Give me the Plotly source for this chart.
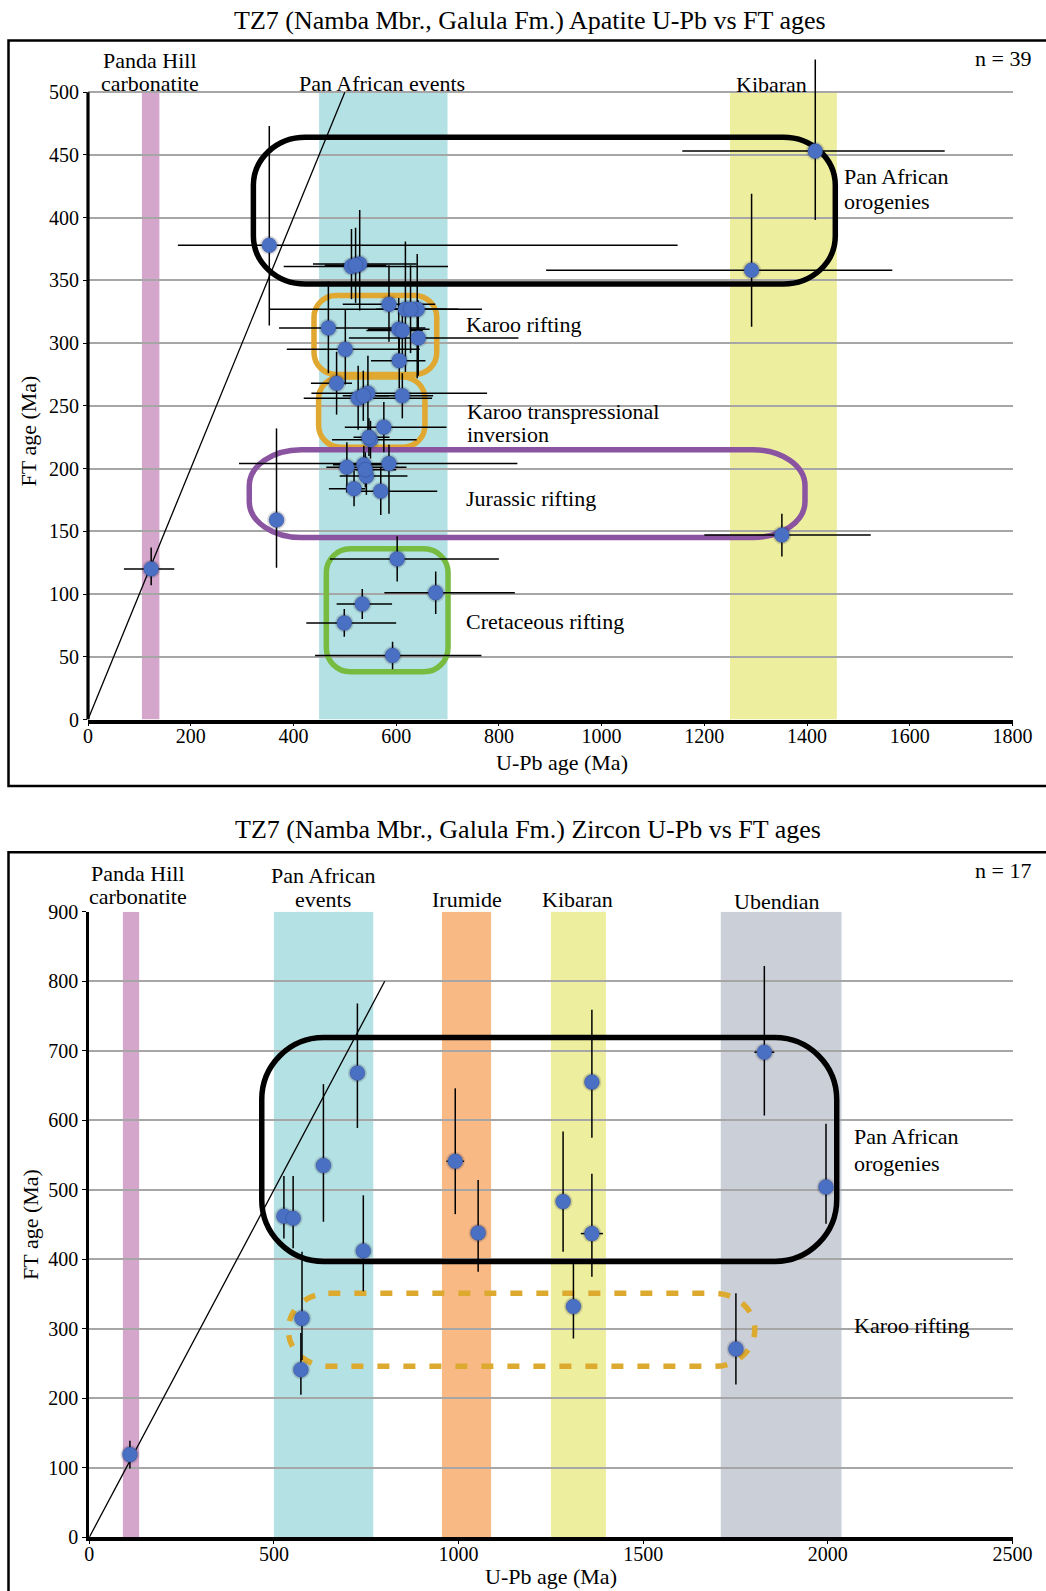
import plotly.graph_objects as go

W, H = 1046, 1591
FONT = "Liberation Serif"

# ---------------- Apatite (upper panel) ----------------
ap_upb = [123, 353, 513, 529, 586, 618, 641, 468, 605, 643, 501, 606, 484, 526, 545, 612,
          576, 550, 504, 537, 542, 586, 518, 570, 367, 602, 677, 534, 499, 593, 1416, 1292,
          1351, 521, 628, 540, 536, 612, 547]
ap_upb_lo = [53, 178, 132, 91, 90, 265, 80, 96, 60, 135, 114, 55, 50, 106, 110, 50,
             76, 75, 40, 60, 52, 292, 49, 43, 10, 131, 100, 50, 74, 151, 259, 400,
             151, 60, 50, 45, 40, 70, 30]
ap_upb_hi = [45, 795, 188, 111, 90, 149, 80, 189, 60, 195, 145, 51, 30, 144, 232, 60,
             122, 90, 116, 60, 80, 250, 22, 110, 10, 198, 154, 58, 101, 173, 252, 274,
             173, 60, 70, 60, 50, 40, 40]
ap_ft = [120, 378, 361, 363, 331, 327, 327, 312, 311, 304, 295, 286, 268, 256, 260, 258,
         233, 223, 201, 203, 194, 204, 184, 182, 159, 128, 101, 92, 77, 51, 453, 358,
         147, 362, 327, 199, 258, 310, 225]
ap_ft_lo = [13, 64, 26, 37, 30, 50, 55, 36, 25, 30, 28, 22, 25, 25, 35, 18,
            20, 15, 20, 15, 15, 40, 14, 19, 38, 18, 17, 12, 11, 11, 55, 45,
            17, 30, 35, 14, 20, 20, 15]
ap_ft_hi = [17, 95, 30, 43, 31, 54, 44, 37, 25, 30, 32, 22, 25, 26, 30, 18,
            20, 15, 20, 15, 15, 15, 14, 19, 73, 18, 17, 12, 11, 11, 73, 61,
            17, 30, 35, 14, 20, 20, 15]

# ---------------- Zircon (lower panel) ----------------
zr_upb = [110, 527, 552, 634, 726, 742, 576, 573, 991, 1053, 1361, 1283, 1361, 1311, 1828, 1995, 1751]
zr_upb_lo = [8, 8, 8, 0, 0, 0, 0, 0, 24, 0, 10, 0, 30, 0, 27, 10, 10]
zr_upb_hi = [8, 8, 8, 0, 0, 0, 0, 0, 24, 0, 10, 0, 30, 0, 27, 10, 10]
zr_ft = [119, 462, 459, 535, 668, 412, 315, 241, 541, 438, 655, 483, 437, 332, 698, 504, 271]
zr_ft_lo = [20, 32, 43, 81, 79, 58, 60, 36, 76, 56, 80, 72, 62, 46, 91, 53, 51]
zr_ft_hi = [20, 58, 61, 117, 100, 80, 96, 53, 105, 76, 104, 101, 86, 62, 124, 91, 80]

# Event age windows (U-Pb, Ma)
ap_bands = [("Panda Hill", 105, 139, "#d5a6cb"),
            ("Pan African events", 450, 700, "#b4e1e4"),
            ("Kibaran", 1250, 1458, "#eeee9f")]
zr_bands = [("Panda Hill", 91, 135, "#d5a6cb"),
            ("Pan African events", 500, 769, "#b4e1e4"),
            ("Irumide", 955, 1088, "#f8b985"),
            ("Kibaran", 1250, 1399, "#eeee9f"),
            ("Ubendian", 1710, 2037, "#cbd0d8")]

# Age groupings outlined on each panel: x0, x1, y0, y1, colour, corner rx/ry (px), dashed, width
ap_groups = [(322, 1455, 347, 464, "#000000", 52, 48, False, 5.5),
             (440, 679, 275, 338, "#e0a830", 22, 22, False, 5.5),
             (449, 656, 217, 273, "#e0a830", 22, 22, False, 5.5),
             (314, 1396, 145, 215, "#8a54a0", 52, 36, False, 5.5),
             (464, 701, 38, 136, "#77bb41", 24, 24, False, 5.5)]
zr_groups = [(467, 2024, 397, 719, "#000000", 62, 62, False, 5.5),
             (539, 1802, 246, 351, "#ddaa30", 40, 36, True, 5.5)]

AP_XR, AP_YR = [0, 1800], [0, 530]
ZR_XR, ZR_YR = [0, 2500], [0, 900]

# panel placement in pixels
AP_X = (88, 1012.5)
AP_Y = (719.5, 54.5)      # bottom, top
ZR_X = (89.3, 1012.5)
ZR_Y = (1537.3, 911.8)


def dom_x(p):
    return [p[0] / W, p[1] / W]


def dom_y(p):
    return [1 - p[0] / H, 1 - p[1] / H]


def rounded_path(x0, x1, y0, y1, rpx, rpy, kx, ky):
    rx, ry = rpx / kx, rpy / ky
    k = 0.5523
    return (f"M {x0+rx},{y1} L {x1-rx},{y1} "
            f"C {x1-rx+k*rx},{y1} {x1},{y1-ry+k*ry} {x1},{y1-ry} "
            f"L {x1},{y0+ry} "
            f"C {x1},{y0+ry-k*ry} {x1-rx+k*rx},{y0} {x1-rx},{y0} "
            f"L {x0+rx},{y0} "
            f"C {x0+rx-k*rx},{y0} {x0},{y0+ry-k*ry} {x0},{y0+ry} "
            f"L {x0},{y1-ry} "
            f"C {x0},{y1-ry+k*ry} {x0+rx-k*rx},{y1} {x0+rx},{y1} Z")


fig = go.Figure()

MARK = dict(size=15, color="#4a70c4", line=dict(width=0.6, color="rgba(40,60,120,0.6)"))


def add_panel(xa, ya, x, xlo, xhi, y, ylo, yhi, one_to_one):
    # 1:1 reference line
    fig.add_trace(go.Scatter(x=[0, one_to_one], y=[0, one_to_one], mode="lines",
                             line=dict(color="black", width=1.3), xaxis=xa, yaxis=ya,
                             hoverinfo="skip", showlegend=False))
    # soft halo under each sample
    fig.add_trace(go.Scatter(x=x, y=y, mode="markers", xaxis=xa, yaxis=ya, showlegend=False,
                             hoverinfo="skip",
                             marker=dict(size=19, color="rgba(40,40,70,0.16)", line=dict(width=0))))
    fig.add_trace(go.Scatter(
        x=x, y=y, mode="markers", xaxis=xa, yaxis=ya, showlegend=False, marker=MARK,
        error_x=dict(type="data", symmetric=False, array=xhi, arrayminus=xlo,
                     color="black", thickness=1.5, width=0),
        error_y=dict(type="data", symmetric=False, array=yhi, arrayminus=ylo,
                     color="black", thickness=1.5, width=0)))


add_panel("x", "y", ap_upb, ap_upb_lo, ap_upb_hi, ap_ft, ap_ft_lo, ap_ft_hi, 500)
add_panel("x2", "y2", zr_upb, zr_upb_lo, zr_upb_hi, zr_ft, zr_ft_lo, zr_ft_hi, 800)

shapes = []
# outer frames
shapes.append(dict(type="rect", xref="paper", yref="paper", x0=8.5 / W, x1=1.01,
                   y0=1 - 786 / H, y1=1 - 40.6 / H, line=dict(color="black", width=2.5),
                   fillcolor="rgba(0,0,0,0)", layer="above"))
shapes.append(dict(type="rect", xref="paper", yref="paper", x0=8.5 / W, x1=1.01,
                   y0=-0.01, y1=1 - 852.2 / H, line=dict(color="black", width=2.5),
                   fillcolor="rgba(0,0,0,0)", layer="above"))

for _, a, b, c in ap_bands:
    shapes.append(dict(type="rect", xref="x", yref="y", x0=a, x1=b, y0=0, y1=500,
                       fillcolor=c, line=dict(width=0), layer="below"))
for _, a, b, c in zr_bands:
    shapes.append(dict(type="rect", xref="x2", yref="y2", x0=a, x1=b, y0=0, y1=900,
                       fillcolor=c, line=dict(width=0), layer="below"))

# left axis of upper panel stops at 500 Ma
shapes.append(dict(type="line", xref="paper", yref="y", x0=AP_X[0] / W, x1=AP_X[0] / W,
                   y0=0, y1=500, line=dict(color="black", width=3.2), layer="above"))

ap_kx = (AP_X[1] - AP_X[0]) / (AP_XR[1] - AP_XR[0])
ap_ky = (AP_Y[0] - AP_Y[1]) / (AP_YR[1] - AP_YR[0])
zr_kx = (ZR_X[1] - ZR_X[0]) / (ZR_XR[1] - ZR_XR[0])
zr_ky = (ZR_Y[0] - ZR_Y[1]) / (ZR_YR[1] - ZR_YR[0])

for x0, x1, y0, y1, col, rx, ry, dashed, lw in ap_groups:
    shapes.append(dict(type="path", xref="x", yref="y",
                       path=rounded_path(x0, x1, y0, y1, rx, ry, ap_kx, ap_ky),
                       line=dict(color=col, width=lw, dash="12px,14px" if dashed else "solid"),
                       fillcolor="rgba(0,0,0,0)", layer="between"))
for x0, x1, y0, y1, col, rx, ry, dashed, lw in zr_groups:
    shapes.append(dict(type="path", xref="x2", yref="y2",
                       path=rounded_path(x0, x1, y0, y1, rx, ry, zr_kx, zr_ky),
                       line=dict(color=col, width=lw, dash="12px,14px" if dashed else "solid"),
                       fillcolor="rgba(0,0,0,0)", layer="between"))


def ann(text, x, y, size=22, xanchor="center", angle=0):
    return dict(text=text, x=x / W, y=1 - y / H, xref="paper", yref="paper",
                showarrow=False, xanchor=xanchor, yanchor="middle", textangle=angle,
                font=dict(family=FONT, size=size, color="black"))


annotations = [
    ann("TZ7 (Namba Mbr., Galula Fm.) Apatite U-Pb vs FT ages", 529.6, 20.3, 26),
    ann("TZ7 (Namba Mbr., Galula Fm.) Zircon U-Pb vs FT ages", 527.5, 829, 26),
    ann("U-Pb age (Ma)", 561.5, 762),
    ann("U-Pb age (Ma)", 551.4, 1576),
    ann("FT age (Ma)", 28.4, 431, angle=-90),
    ann("FT age (Ma)", 30.4, 1224.5, angle=-90),
    # upper panel labels
    ann("Panda Hill", 150, 61), ann("carbonatite", 150, 83),
    ann("Pan African events", 381.5, 83),
    ann("Kibaran", 771, 84),
    ann("n = 39", 1033, 58, xanchor="right"),
    ann("Pan African", 842, 176, xanchor="left"), ann("orogenies", 842, 202, xanchor="left"),
    ann("Karoo rifting", 463.6, 324.6, xanchor="left"),
    ann("Karoo transpressional", 464.6, 412, xanchor="left"),
    ann("inversion", 464.6, 434, xanchor="left"),
    ann("Jurassic rifting", 463.6, 498, xanchor="left"),
    ann("Cretaceous rifting", 463.6, 621, xanchor="left"),
    # lower panel labels
    ann("Panda Hill", 138, 874), ann("carbonatite", 138, 896),
    ann("Pan African", 322.6, 876), ann("events", 322.6, 899),
    ann("Irumide", 466.7, 899),
    ann("Kibaran", 577, 899),
    ann("Ubendian", 777, 901),
    ann("n = 17", 1033, 870.5, xanchor="right"),
    ann("Pan African", 852, 1136, xanchor="left"), ann("orogenies", 852, 1163, xanchor="left"),
    ann("Karoo rifting", 852, 1325, xanchor="left"),
]

tickfont = dict(family=FONT, size=20, color="black")
common_x = dict(showgrid=False, zeroline=False, showline=True, linecolor="black",
                linewidth=3.5, ticks="outside", ticklen=3, tickcolor="black",
                ticklabelstandoff=-7,
                tickfont=tickfont, fixedrange=True, automargin=False)
common_y = dict(showgrid=True, gridcolor="#a6a6a6", gridwidth=1.5, zeroline=False,
                ticks="outside", ticklen=4, tickcolor="black", tickfont=tickfont,
                fixedrange=True, automargin=False)

fig.update_layout(
    template="none",
    width=W, height=H, margin=dict(l=0, r=0, t=0, b=0, pad=0, autoexpand=False),
    paper_bgcolor="white", plot_bgcolor="white", showlegend=False,
    font=dict(family=FONT, color="black"),
    xaxis=dict(domain=dom_x(AP_X), range=AP_XR, anchor="y",
               tickvals=list(range(0, 1801, 200)), **common_x),
    yaxis=dict(domain=dom_y(AP_Y), range=AP_YR, anchor="x", showline=False,
               tickvals=list(range(0, 501, 50)), **common_y),
    xaxis2=dict(domain=dom_x(ZR_X), range=ZR_XR, anchor="y2",
                tickvals=list(range(0, 2501, 500)), **common_x),
    yaxis2=dict(domain=dom_y(ZR_Y), range=ZR_YR, anchor="x2", showline=True,
                linecolor="black", linewidth=3.2,
                tickvals=list(range(0, 901, 100)), **common_y),
    shapes=shapes, annotations=annotations,
)

fig.write_html("out.html")
